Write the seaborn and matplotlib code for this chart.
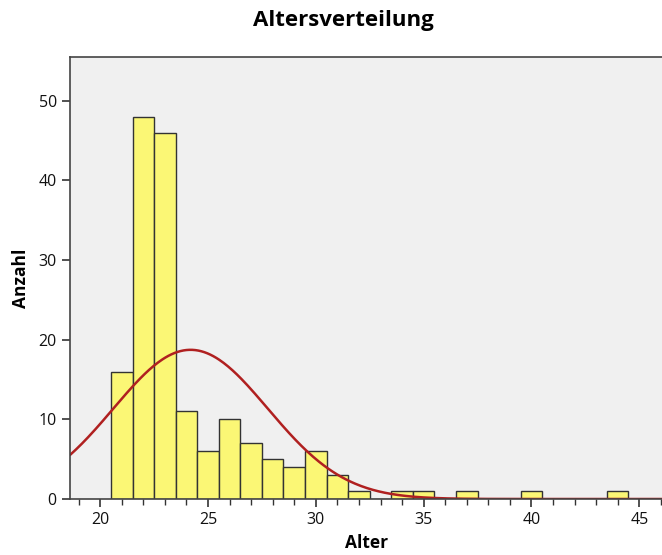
import numpy as np
import pandas as pd
import seaborn as sns
import matplotlib
matplotlib.use("Agg")
import matplotlib.pyplot as plt
from matplotlib.ticker import MultipleLocator

# Altersverteilung: Alter (Jahre) und Anzahl
ages = [21, 22, 23, 24, 25, 26, 27, 28, 29, 30, 31, 32, 34, 35, 37, 40, 44]
counts = [16, 48, 46, 11, 6, 10, 7, 5, 4, 6, 3, 1, 1, 1, 1, 1, 1]

df = pd.DataFrame({"Alter": ages, "Anzahl": counts})

sns.set_style("white")
plt.rcParams["font.family"] = ["Open Sans", "DejaVu Sans"]

fig = plt.figure(figsize=(6.62, 5.55), dpi=100)
ax = fig.add_axes([70 / 662, 1 - 499 / 555, 593 / 662, 442 / 555])
ax.set_facecolor("#f0f0f0")

sns.histplot(data=df, x="Alter", weights="Anzahl", binwidth=1, binrange=(20.5, 44.5),
             color="#fbf775", edgecolor="#333333", linewidth=1.0, alpha=1, ax=ax)

# Normalverteilungskurve aus Mittelwert und Standardabweichung der Daten
n = df["Anzahl"].sum()
mean = (df["Alter"] * df["Anzahl"]).sum() / n
sd = np.sqrt(((df["Alter"] - mean) ** 2 * df["Anzahl"]).sum() / (n - 1))
xs = np.linspace(18.6, 46.2, 400)
curve = pd.DataFrame({"x": xs, "y": n * np.exp(-0.5 * ((xs - mean) / sd) ** 2) / (sd * np.sqrt(2 * np.pi))})
sns.lineplot(data=curve, x="x", y="y", color="#b02020", linewidth=1.8, ax=ax)

ax.set_xlim(18.6, 46.1)
ax.set_ylim(0, 55.5)
ax.xaxis.set_major_locator(MultipleLocator(5))
ax.xaxis.set_minor_locator(MultipleLocator(1))
ax.yaxis.set_major_locator(MultipleLocator(10))
ax.tick_params(axis="both", which="major", direction="out", length=6, width=1.2,
               color="#333333", labelsize=11.5, labelcolor="#111111", bottom=True, left=True)
ax.tick_params(axis="x", which="minor", direction="out", length=4, width=1.0,
               color="#333333", bottom=True)

for side in ["left", "bottom", "top"]:
    ax.spines[side].set_color("#444444")
    ax.spines[side].set_linewidth(1.2)
ax.spines["right"].set_visible(False)

ax.set_xlabel("Alter", fontsize=12.5, fontweight="bold", color="black", labelpad=4)
ax.set_ylabel("Anzahl", fontsize=12.5, fontweight="bold", color="black", labelpad=6)
fig.suptitle("Altersverteilung", fontsize=16, fontweight="bold", color="black",
             x=0.518, y=0.982)

fig.savefig("out.png", dpi=100)
